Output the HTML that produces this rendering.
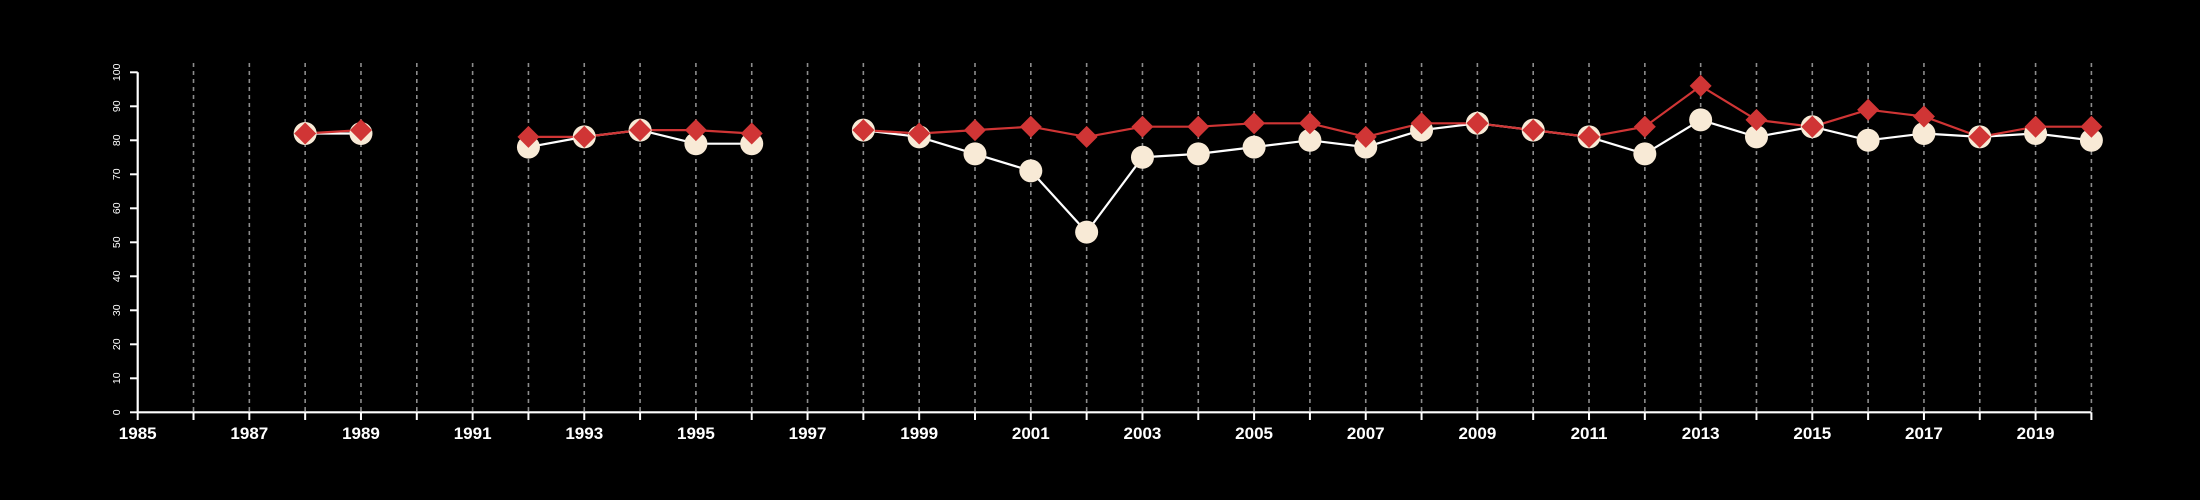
<!DOCTYPE html>
<html><head><meta charset="utf-8"><style>
body{margin:0;background:#000;}
svg{display:block;font-family:"Liberation Sans",Arial,sans-serif;}
</style></head><body>
<svg id="chart" width="2200" height="500" viewBox="0 0 2200 500"></svg>
<script>
const years=[1985,1986,1987,1988,1989,1990,1991,1992,1993,1994,1995,1996,1997,1998,1999,2000,2001,2002,2003,2004,2005,2006,2007,2008,2009,2010,2011,2012,2013,2014,2015,2016,2017,2018,2019,2020];
const seriesA=[null,null,null,82,82,null,null,78,81,83,79,79,null,83,81,76,71,53,75,76,78,80,78,83,85,83,81,76,86,81,84,80,82,81,82,80];
const seriesB=[null,null,null,82,83,null,null,81,81,83,83,82,null,83,82,83,84,81,84,84,85,85,81,85,85,83,81,84,96,86,84,89,87,81,84,84];
const yTicks=[0,10,20,30,40,50,60,70,80,90,100];
const NS="http://www.w3.org/2000/svg";
const svg=document.getElementById('chart');
const x=v=>137.7+(v-1985)*55.82;
const y=v=>412.3-v*3.4;
function el(t,a,p){const e=document.createElementNS(NS,t);for(const k in a)e.setAttribute(k,a[k]);(p||svg).appendChild(e);return e;}
const grid=el('g',{});


years.forEach(yr=>{if(yr===1985)return;const l=el('line',{x1:x(yr),x2:x(yr),y1:63,y2:412,stroke:'#8c8c8c','stroke-width':1.6,'stroke-dasharray':'4,4'},grid);

});
const xa=el('g',{});


el('line',{x1:x(1985),x2:x(2020),y1:412.3,y2:412.3,stroke:'#fff','stroke-width':2.2},xa);
years.forEach(yr=>{el('line',{x1:x(yr),x2:x(yr),y1:412.3,y2:420,stroke:'#fff','stroke-width':2},xa);
if(yr%2===1){const t=el('text',{x:x(yr),y:439,fill:'#fff','font-size':17,'font-weight':'bold','text-anchor':'middle'},xa);t.textContent=yr;

}});
const ya=el('g',{});


el('line',{x1:137.7,x2:137.7,y1:y(0),y2:y(100),stroke:'#fff','stroke-width':2.2},ya);
yTicks.forEach(v=>{el('line',{x1:130,x2:137.7,y1:y(v),y2:y(v),stroke:'#fff','stroke-width':2},ya);
const t=el('text',{x:0,y:0,fill:'#fff','font-size':10.5,'text-anchor':'middle',transform:`translate(120,${y(v)}) rotate(-90)`},ya);t.textContent=v;

});
function drawLine(vals,color,name){const g=el('g',{});


let seg=[];const flush=()=>{if(seg.length>1)el('polyline',{points:seg.join(' '),fill:'none',stroke:color,'stroke-width':2.2},g);seg=[];};
vals.forEach((v,i)=>{if(v===null)flush();else seg.push(x(years[i])+','+y(v));});flush();}
drawLine(seriesA,'#fff','series-a');
drawLine(seriesB,'#d03535','series-b');
seriesA.forEach((v,i)=>{if(v===null)return;const c=el('circle',{cx:x(years[i]),cy:y(v),r:11.5,fill:'#f8ead6'});

});
seriesB.forEach((v,i)=>{if(v===null)return;const cx=x(years[i]),cy=y(v),r=11;
const p=el('polygon',{points:`${cx},${cy-r} ${cx+r},${cy} ${cx},${cy+r} ${cx-r},${cy}`,fill:'#d03535'});

});
</script>
</body></html>
